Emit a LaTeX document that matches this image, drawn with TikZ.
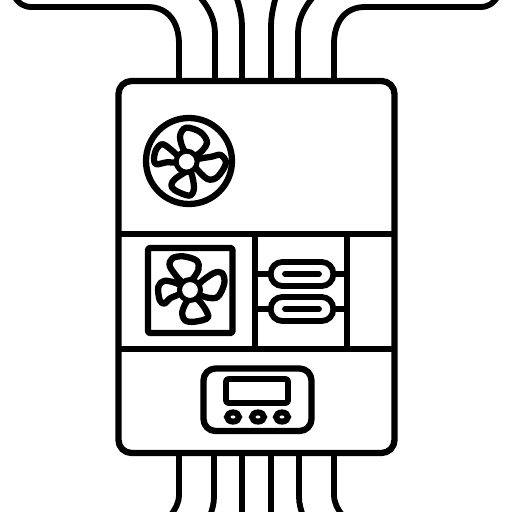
\documentclass[tikz,border=0pt]{standalone}
\usetikzlibrary{calc}
\tikzset{
  ink/.style={draw=black,line width=6.3pt,line join=round},
  thin ink/.style={draw=black,line width=5.8pt,line join=round},
  blade/.style={draw=black,line width=6.3pt,line join=round},
  hub/.style={draw=black,fill=white,line width=5pt},
  wire/.style={draw=black,line width=5.8pt},
}
\begin{document}
\begin{tikzpicture}[x=1pt,y=-1pt]
\useasboundingbox[fill=white] (0,0) rectangle (512,512);

% upper cable bundle
\coordinate (t1) at (179,81); \coordinate (t2) at (215,81); \coordinate (t3) at (242,81);
\coordinate (t4) at (271,81); \coordinate (t5) at (298,81); \coordinate (t6) at (334,81);
\draw[wire] (t1) -- (179,44) .. controls (179,22) and (168,7) .. (148,7) -- (32,7) .. controls (24,7) and (19,4) .. (14,-4);
\draw[wire] (t2) -- (215,34) .. controls (215,20) and (210,9) .. (199,-4);
\draw[wire] (t3) -- (242,28) .. controls (242,16) and (240,8) .. (236,-4);
\draw[wire] (t4) -- (271,28) .. controls (271,16) and (273,8) .. (276,-4);
\draw[wire] (t5) -- (298,34) .. controls (298,20) and (303,9) .. (314,-4);
\draw[wire] (t6) -- (334,44) .. controls (334,22) and (345,7) .. (365,7) -- (480,7) .. controls (488,7) and (493,4) .. (498,-4);

% lower cable bundle
\coordinate (b1) at (179,453); \coordinate (b2) at (214,453); \coordinate (b3) at (242,453);
\coordinate (b4) at (271,453); \coordinate (b5) at (299,453); \coordinate (b6) at (334,453);
\draw[wire] (b1) -- (179,495) .. controls (179,503) and (175,510) .. (170,516);
\draw[wire] (b2) -- (214,497) .. controls (214,504) and (212,510) .. (210,516);
\draw[wire] (b3) -- (242,516);
\draw[wire] (b4) -- (271,516);
\draw[wire] (b5) -- (299,497) .. controls (299,504) and (301,510) .. (303,516);
\draw[wire] (b6) -- (334,495) .. controls (334,503) and (338,510) .. (343,516);

% cabinet and its compartments
\draw[ink,fill=none,rounded corners=13pt] (118.5,81) rectangle (394.5,453);
\draw[ink] (118.5,234) -- (394.5,234);
\draw[ink] (118.5,349) -- (394.5,349);
\draw[ink] (255,234) -- (255,349);
\draw[ink] (347,234) -- (347,349);

% round fan
\draw[ink] (189,161) circle (43);
\begin{scope}[shift={(130,105)},x=0.3333pt,y=-0.3333pt]
  \draw[blade] plot[smooth cycle,tension=0.55] coordinates {(165,140) (150,95) (168,68) (212,82) (231,115) (200,150)};
  \draw[blade] plot[smooth cycle,tension=0.55] coordinates {(195,165) (245,155) (272,150) (288,175) (262,216) (232,222) (195,185)};
  \draw[blade] plot[smooth cycle,tension=0.55] coordinates {(170,200) (135,222) (124,240) (135,256) (178,272) (192,250) (184,205)};
  \draw[blade] plot[smooth cycle,tension=0.55] coordinates {(145,155) (100,118) (78,135) (72,165) (80,178) (110,172) (145,172)};
  \draw[hub] (170,170) circle (10.5pt);
\end{scope}

% square fan
\draw[ink,rounded corners=1.5pt] (148,248) rectangle (232.5,333);
\begin{scope}[shift={(135,235)},x=0.3333pt,y=-0.3333pt]
  \draw[blade] plot[smooth cycle,tension=0.55] coordinates {(140,140) (105,95) (112,70) (145,64) (185,77) (190,105) (165,140)};
  \draw[blade] plot[smooth cycle,tension=0.55] coordinates {(190,150) (235,115) (261,114) (268,145) (245,188) (195,180)};
  \draw[blade] plot[smooth cycle,tension=0.55] coordinates {(160,195) (142,230) (150,256) (180,260) (220,245) (190,195)};
  \draw[blade] plot[smooth cycle,tension=0.55] coordinates {(135,150) (90,137) (70,155) (74,195) (88,206) (105,190) (135,175)};
  \draw[hub] (165,165) circle (10.5pt);
\end{scope}

% twin exchanger tubes between the two partitions
\node[thin ink,rounded corners=11.5pt,minimum width=62.5pt,minimum height=24pt,inner sep=0pt] (tubeA) at (302,274) {};
\node[thin ink,rounded corners=11.5pt,minimum width=62.5pt,minimum height=24pt,inner sep=0pt] (tubeB) at (302,309) {};
\coordinate (wallL) at (255,0); \coordinate (wallR) at (347,0);
\draw[thin ink] (wallL |- tubeA) -- (tubeA.west);
\draw[thin ink] (tubeA.east) -- (wallR |- tubeA);
\draw[thin ink] (wallL |- tubeB) -- (tubeB.west);
\draw[thin ink] (tubeB.east) -- (wallR |- tubeB);
\draw[thin ink,line cap=round] (285,274) -- (319,274);
\draw[thin ink,line cap=round] (285,309) -- (319,309);

% controller with display and three buttons
\draw[ink,rounded corners=12pt] (203.5,368.5) rectangle (311.5,431);
\draw[thin ink,rounded corners=2.5pt] (226,379) rectangle (288,403);
\draw[line width=6pt,draw=black] (233,417) ellipse (6pt and 4.6pt);
\draw[line width=6pt,draw=black] (258,417) ellipse (6pt and 4.6pt);
\draw[line width=6pt,draw=black] (282,417) ellipse (6pt and 4.6pt);
\end{tikzpicture}
\end{document}
